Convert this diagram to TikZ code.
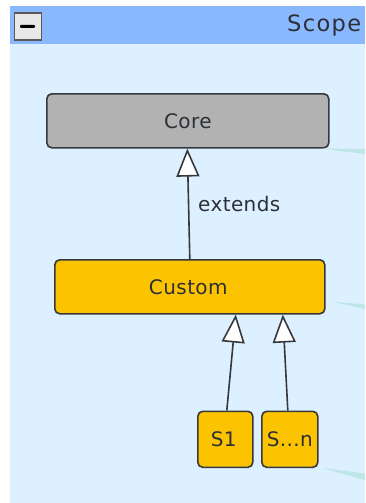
\documentclass[tikz,border=0pt]{standalone}
\usepackage{fontspec}
\setmainfont{DejaVu Sans}
\usetikzlibrary{arrows.meta,positioning}
\definecolor{panelblue}{HTML}{DCF0FF}
\definecolor{headblue}{HTML}{8AB8FF}
\definecolor{coregray}{HTML}{B2B2B2}
\definecolor{customgold}{HTML}{FCC400}
\definecolor{edgedark}{HTML}{36383C}
\definecolor{wisp}{HTML}{BFE6E6}
\definecolor{textdark}{HTML}{2C3036}
\tikzset{
  x=1pt,y=-1pt,
  classbox/.style={draw=edgedark,line width=1.6pt,rounded corners=5pt,inner sep=0pt,text=textdark,font=\fontsize{20}{24}\selectfont,anchor=north west},
  extendsline/.style={draw=edgedark,line width=1.6pt,-{Triangle[open,fill=white,length=28pt,width=23pt,line width=1.6pt]}},
  wispshape/.style={fill=wisp,draw=none},
  lbl/.style={text=textdark,inner sep=0pt,font=\fontsize{20}{24}\selectfont}
}
\begin{document}
\begin{tikzpicture}
\useasboundingbox (0,0) rectangle (365,503);
\fill[white] (0,0) rectangle (365,503);
\fill[panelblue] (10,44) rectangle (365,503);
\fill[headblue] (10,6) rectangle (365,44);
\node[draw=gray!70!black,line width=1.3pt,fill=gray!18,minimum width=27pt,minimum height=27pt,inner sep=0pt,anchor=north west] (btn) at (13.5,12.5) {};
\fill[black,rounded corners=1pt] (20,25) rectangle (35,28);
\node[lbl,font=\fontsize{22.5}{26}\selectfont,anchor=west] (scope) at (287,25) {\addfontfeature{LetterSpace=6}Scope};
\node[classbox,fill=coregray,minimum width=282pt,minimum height=54pt] (core) at (46,93) {\addfontfeature{LetterSpace=2}Core};
\node[classbox,fill=customgold,minimum width=270pt,minimum height=54pt] (custom) at (54,259) {\hspace*{-3pt}\addfontfeature{LetterSpace=2}Custom};
\node[classbox,fill=customgold,minimum width=55pt,minimum height=56pt] (s1) at (197,410.5) {\hspace*{-3pt}\addfontfeature{LetterSpace=2}S1};
\node[classbox,fill=customgold,minimum width=56pt,minimum height=56pt] (sn) at (261,410.5) {\addfontfeature{LetterSpace=2}S...n};
\draw[extendsline] ([xshift=0pt]custom.north) -- ([xshift=-0.5pt]core.south);
\draw[extendsline] ([xshift=1.5pt]s1.north) -- ([xshift=46pt]custom.south);
\draw[extendsline] ([xshift=-2pt]sn.north) -- ([xshift=93pt]custom.south);
\node[lbl,anchor=west] (ext) at (198,204) {\addfontfeature{LetterSpace=2}extends};
\coordinate (w1a) at (365,149);
\coordinate (w1b) at (365,154);
\coordinate (w2a) at (365,304.5);
\coordinate (w2b) at (365,309);
\coordinate (w3a) at (365,473.5);
\coordinate (w3b) at (365,480);
\fill[wispshape] ([xshift=-8pt]core.south east) -- (w1a) -- (w1b) -- cycle;
\fill[wispshape] ([xshift=6pt,yshift=13pt]custom.south east) -- (w2a) -- (w2b) -- cycle;
\fill[wispshape] ([xshift=4pt]sn.south east) -- (w3a) -- (w3b) -- cycle;
\end{tikzpicture}
\end{document}
